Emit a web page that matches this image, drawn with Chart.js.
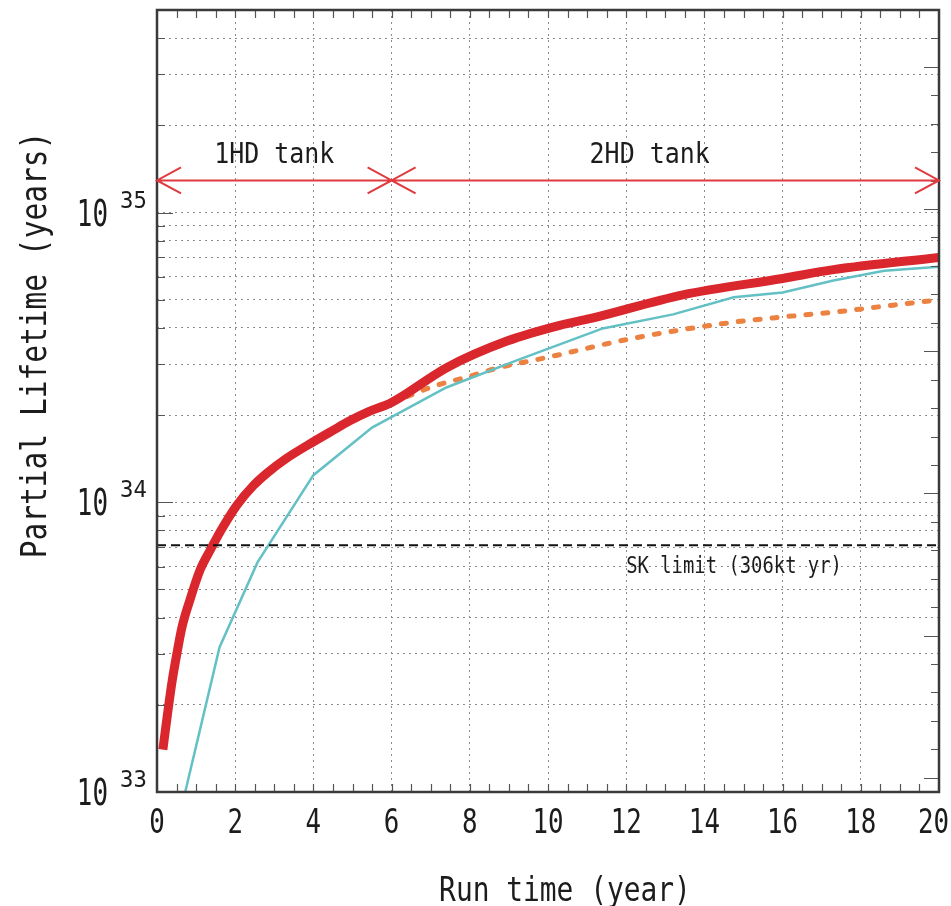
<!DOCTYPE html>
<html>
<head>
<meta charset="utf-8">
<script src="https://cdn.jsdelivr.net/npm/chart.js@4.4.1/dist/chart.umd.min.js"></script>
<style>
  html, body { margin: 0; padding: 0; background: #ffffff; }
  #wrap { width: 951px; height: 906px; }
</style>
</head>
<body>
<div id="wrap"><canvas id="c" width="951" height="906"></canvas></div>
<script>
// ---------------- data ----------------
const redYears     = [0.15, 0.26, 0.38, 0.51, 0.64, 0.84, 1.10, 1.36, 1.66, 2.05, 2.46, 2.81, 3.32, 3.84, 4.50, 4.93, 5.40, 6.00, 7.42, 8.95, 10.3, 11.1, 13.45, 16.0, 17.3, 20.0];
const redLifetime  = [1.40e33, 1.82e33, 2.38e33, 3.01e33, 3.71e33, 4.59e33, 5.83e33, 6.83e33, 8.1e33, 9.8e33, 1.14e34, 1.26e34, 1.42e34, 1.57e34, 1.77e34, 1.91e34, 2.05e34, 2.21e34, 2.92e34, 3.60e34, 4.08e34, 4.31e34, 5.20e34, 5.92e34, 6.35e34, 7.00e34];

const cyanYears    = [0.45, 1.60, 2.57, 4.00, 5.50, 7.40, 9.20, 11.4, 13.2, 14.75, 16.0, 17.3, 18.6, 20.0];
const cyanLifetime = [7.0e32, 3.16e33, 6.2e33, 1.24e34, 1.81e34, 2.49e34, 3.09e34, 3.98e34, 4.45e34, 5.10e34, 5.30e34, 5.83e34, 6.30e34, 6.50e34];

const orangeYears    = [6.0, 7.06, 7.9, 8.77, 9.97, 12.17, 14.73, 16.0, 17.3, 18.6, 20.0];
const orangeLifetime = [2.20e34, 2.51e34, 2.70e34, 2.92e34, 3.16e34, 3.68e34, 4.18e34, 4.36e34, 4.53e34, 4.75e34, 5.00e34];

const skLimit = 7.1e33;
const skLabel = 'SK limit (306kt yr)';

const xTickLabels = [0, 2, 4, 6, 8, 10, 12, 14, 16, 18, 20];
const yDecades = [33, 34, 35];
const yMultipliers = [1, 2, 3, 4, 5, 6, 7, 8, 9];

const tankArrowLevel = 1.29e35;
const tankBoundaries = [0, 6, 20];
const tankLabels = ['1HD tank', '2HD tank'];
const tankLabelYears = [3.0, 12.6];

const xTitle = 'Run time (year)';
const yTitle = 'Partial Lifetime (years)';

// ---------------- helpers ----------------
const pts = (xs, ys) => xs.map((x, i) => ({ x: x, y: ys[i] }));
const MONO = '"DejaVu Sans Mono", "Liberation Mono", monospace';
const TEXT = '#1c1c1c';

function narrowText(ctx, text, x, y, size, sx, align, rot) {
  ctx.save();
  ctx.translate(x, y);
  if (rot) ctx.rotate(rot);
  ctx.scale(sx, 1);
  ctx.font = size + 'px ' + MONO;
  ctx.fillStyle = TEXT;
  ctx.textAlign = align;
  ctx.textBaseline = 'alphabetic';
  ctx.fillText(text, 0, 0);
  ctx.restore();
}

const decorPlugin = {
  id: 'decor',
  afterDatasetsDraw(chart) {
    const ctx = chart.ctx;
    const a = chart.chartArea;
    const xs = chart.scales.x, ys = chart.scales.y, y2 = chart.scales.y2;

    // inward tick marks
    ctx.save();
    ctx.strokeStyle = '#555';
    ctx.lineWidth = 1.2;
    ctx.beginPath();
    ys.ticks.forEach(t => {
      const p = Math.round(ys.getPixelForValue(t.value)) + 0.5;
      const isDec = Math.abs(Math.log10(t.value) - Math.round(Math.log10(t.value))) < 1e-6;
      const len = isDec ? 16 : 8;
      ctx.moveTo(a.left, p); ctx.lineTo(a.left + len, p);
    });
    y2.ticks.forEach(t => {
      const p = Math.round(y2.getPixelForValue(t.value)) + 0.5;
      const len = (t.value % 5 === 0) ? 15 : 8;
      ctx.moveTo(a.right, p); ctx.lineTo(a.right - len, p);
    });
    for (let v = 0.5; v < 20; v += 0.5) {
      const p = Math.round(xs.getPixelForValue(v)) + 0.5;
      ctx.moveTo(p, a.top); ctx.lineTo(p, a.top + 8);
      ctx.moveTo(p, a.bottom); ctx.lineTo(p, a.bottom - 8);
    }
    ctx.stroke();
    ctx.restore();

    // frame
    ctx.save();
    ctx.strokeStyle = '#3a3a3a';
    ctx.lineWidth = 2.5;
    ctx.strokeRect(a.left, a.top, a.right - a.left, a.bottom - a.top);
    ctx.restore();

    // tank arrows
    const ay = ys.getPixelForValue(tankArrowLevel);
    const bx = tankBoundaries.map(v => xs.getPixelForValue(v));
    ctx.save();
    ctx.strokeStyle = '#e03a3e';
    ctx.lineWidth = 2;
    ctx.beginPath();
    ctx.moveTo(bx[0], ay); ctx.lineTo(bx[bx.length - 1], ay);
    const hw = 24, hh = 13;
    bx.forEach((p, i) => {
      if (i < bx.length - 1) { // head pointing left
        ctx.moveTo(p + hw, ay - hh); ctx.lineTo(p, ay); ctx.lineTo(p + hw, ay + hh);
      }
      if (i > 0) { // head pointing right
        ctx.moveTo(p - hw, ay - hh); ctx.lineTo(p, ay); ctx.lineTo(p - hw, ay + hh);
      }
    });
    ctx.stroke();
    ctx.restore();

    tankLabels.forEach((lab, i) => {
      narrowText(ctx, lab, xs.getPixelForValue(tankLabelYears[i]), ay - 17, 29, 0.86, 'center');
    });

    // SK label
    narrowText(ctx, skLabel, xs.getPixelForValue(12.0), ys.getPixelForValue(skLimit) + 28, 23, 0.82, 'left');
  },
  afterDraw(chart) {
    const ctx = chart.ctx;
    const a = chart.chartArea;
    const xs = chart.scales.x, ys = chart.scales.y;

    // x tick labels
    ctx.save();
    ctx.font = '34px ' + MONO;
    xTickLabels.forEach(v => {
      let cx = xs.getPixelForValue(v);
      const w = ctx.measureText(String(v)).width * 0.76;
      if (cx + w / 2 > chart.width - 2) cx = chart.width - 2 - w / 2;
      narrowText(ctx, String(v), cx, a.bottom + 41, 34, 0.76, 'center');
    });
    ctx.restore();

    // y tick labels: 10 with exponent
    yDecades.forEach(e => {
      const p = ys.getPixelForValue(Math.pow(10, e));
      narrowText(ctx, '10', a.left - 49, p + 13, 37, 0.7, 'right');
      narrowText(ctx, String(e), a.left - 37, p - 5, 23, 0.97, 'left');
    });

    // axis titles
    narrowText(ctx, xTitle, (a.left + a.right) / 2 + 17, 901, 34, 0.82, 'center');
    narrowText(ctx, yTitle, 46, 345, 36, 0.82, 'center', -Math.PI / 2);
  }
};

const gridColor = '#8c8c8c';

new Chart(document.getElementById('c'), {
  type: 'line',
  data: {
    datasets: [
      {
        label: 'SK limit',
        data: [{ x: 0, y: skLimit }, { x: 20, y: skLimit }],
        borderColor: '#111111',
        borderWidth: 2,
        borderDash: [9, 5],
        pointRadius: 0,
        clip: 0
      },
      {
        label: 'Total',
        data: pts(redYears, redLifetime),
        borderColor: '#d9272d',
        borderWidth: 9,
        borderCapStyle: 'butt',
        borderJoinStyle: 'round',
        cubicInterpolationMode: 'monotone',
        pointRadius: 0,
        clip: 0
      },
      {
        label: 'Cyan',
        data: pts(cyanYears, cyanLifetime),
        borderColor: '#63c0c4',
        borderWidth: 2.5,
        tension: 0,
        pointRadius: 0,
        clip: 0
      },
      {
        label: 'Orange',
        data: pts(orangeYears, orangeLifetime),
        borderColor: '#eb8242',
        borderWidth: 5,
        borderDash: [5, 12],
        borderCapStyle: 'round',
        cubicInterpolationMode: 'monotone',
        pointRadius: 0,
        clip: 0
      }
    ]
  },
  options: {
    responsive: false,
    animation: false,
    devicePixelRatio: 1,
    layout: { padding: { top: 10, right: 12, left: 0, bottom: 0 } },
    plugins: { legend: { display: false }, tooltip: { enabled: false } },
    scales: {
      x: {
        type: 'linear',
        min: 0,
        max: 20,
        ticks: { display: false, stepSize: 2 },
        grid: { color: gridColor, lineWidth: 1, drawTicks: false },
        border: { display: false, dash: [2, 4] },
        afterFit(s) { s.height = 114; }
      },
      y: {
        type: 'logarithmic',
        min: 1e33,
        max: 5e35,
        ticks: { display: false },
        grid: { color: gridColor, lineWidth: 1, drawTicks: false },
        border: { display: false, dash: [2, 4] },
        afterBuildTicks(s) {
          const list = [];
          yDecades.forEach(e => yMultipliers.forEach(m => {
            const v = m * Math.pow(10, e);
            if (v <= 5e35 * 1.0001) list.push({ value: v });
          }));
          s.ticks = list;
        },
        afterFit(s) { s.width = 157; }
      },
      y2: {
        type: 'linear',
        position: 'right',
        min: -0.5,
        max: 27,
        ticks: { display: false },
        grid: { drawOnChartArea: false, drawTicks: false },
        border: { display: false },
        afterBuildTicks(s) {
          const list = [];
          for (let v = 0; v <= 26; v++) list.push({ value: v });
          s.ticks = list;
        },
        afterFit(s) { s.width = 0; }
      }
    }
  },
  plugins: [decorPlugin]
});
</script>
</body>
</html>
